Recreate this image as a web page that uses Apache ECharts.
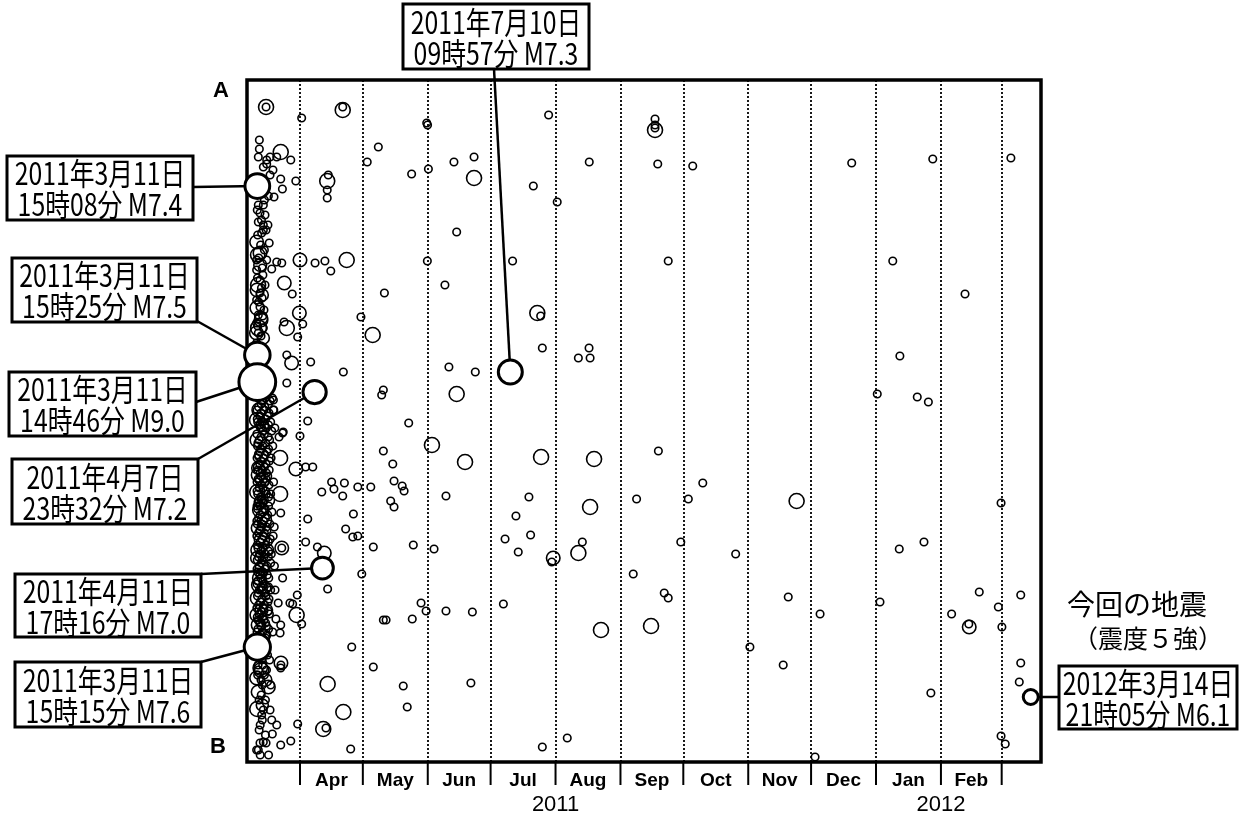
<!DOCTYPE html>
<html><head><meta charset="utf-8">
<script src="https://cdn.jsdelivr.net/npm/echarts@6/dist/echarts.min.js"></script>
<style>html,body{margin:0;padding:0;background:#fff}#c{width:1252px;height:816px}</style>
</head><body><div id="c"></div>
<script>
// x: days after 2011-03-11 00:00 JST, y: distance along profile A→B (km), m: magnitude
const monthStartDays = [21, 51, 82, 112, 143, 174, 204, 235, 265, 296, 327, 356];
const monthNames = ['Apr','May','Jun','Jul','Aug','Sep','Oct','Nov','Dec','Jan','Feb'];
const yearLabelDays = [143, 327];
const yearNames = ['2011', '2012'];
const X_MIN = -4.30, X_MAX = 374.77, Y_MIN = 0, Y_MAX = 682;

const mar11Upper = [[1.6,60,5],[1.6,69,5],[1.1,77,5],[5.1,80,5],[6.7,77,5],[9.9,77,5],[3.5,87,5],[5.1,84,5],[8.1,90,5],[6.7,95,5],[2.9,105,5],[5.9,116,5],[1.1,125,5],[3.5,125,5],[4.3,135,5],[1.9,133,5],[1.1,142,5],[3.5,145,5],[5.7,145,5],[3.5,150,5],[2.7,153,5],[0.3,162,5.8],[6.3,163,5],[1.9,173,5.8],[0.3,180,5],[5.1,180,5],[9.9,182,5],[12.3,183,5],[7.5,189,5],[0.3,190,5],[3.3,195,5],[1.9,200,5],[4.3,205,5],[0.5,210,5.8],[1.9,213,5],[2.9,218,5],[0.3,220,5],[1.9,227,5],[3.8,230,5],[1.1,235,5],[2.4,240,5.8],[0.3,243,5],[3.5,248,5],[1.1,253,5],[0.2,253,5.8],[0.3,263,5],
  [1.0,100,5],[2.3,112,5],[4.0,120,5],[0.6,130,5],[2.6,140,5],[4.8,150,5],[0.8,155,5],[2.2,165,5],[4.0,170,5],[1.3,178,5],[3.0,188,5],[0.7,198,5],[2.6,208,5],[1.3,222,5],[3.2,236,5],[0.8,246,5],[2.4,256,5],[1.4,268,5]];

const mar11Lower = [[1.0,318,5],[4.5,318,5],[7.8,318,5],[2.5,324,5],[6.0,324,5],[0.5,330,5],[3.8,330,5],[8.5,330,5],[1.8,336,5],[5.5,336,5],[0.8,342,5],[3.0,342,5],[7.0,342,5],[2.2,348,5],[5.0,348,5],[9.0,348,5],[0.4,354,5],[4.0,354,5],[1.5,360,5],[6.5,360,5],[3.2,366,5],[0.7,366,5],[8.0,366,5],[2.0,372,5],[5.2,372,5],[0.5,378,5],[3.6,378,5],[7.2,378,5],[1.8,384,5],[4.8,384,5],[0.9,390,5],[3.0,390,5],[6.3,390,5],[2.4,396,5],[5.6,396,5],[0.5,402,5],[4.2,402,5],[8.4,402,5],[1.6,408,5],[3.4,408,5],[0.8,414,5],[5.0,414,5],[7.0,414,5],[2.6,420,5],[4.0,420,5],[0.5,426,5],[1.9,426,5],[6.0,426,5],[3.1,432,5],[7.6,432,5],[1.2,438,5],[4.5,438,5],[0.6,444,5],[2.8,444,5],[6.6,444,5],[1.9,450,5],[5.3,450,5],[0.4,456,5],[3.6,456,5],[8.2,456,5],[2.0,462,5],[5.9,462,5],[0.9,468,5],[3.5,468,5],[1.7,474,5],[4.4,474,5],[7.3,474,5],[0.6,480,5],[2.9,480,5],[1.5,486,5],[5.2,486,5],[8.8,486,5],[0.8,492,5],[3.3,492,5],[2.3,498,5],[6.1,498,5],[0.5,504,5],[4.0,504,5],[1.6,510,5],[3.0,510,5],[7.0,510,5],[0.7,516,5],[4.8,516,5],[2.1,522,5],[5.7,522,5],[0.4,528,5],[3.4,528,5],[1.5,534,5],[6.4,534,5],[0.9,540,5],[3.8,540,5],[2.3,546,5],[5.0,546,5],[0.5,552,5],[3.1,552,5],[8.0,552,5],[1.7,558,5],[4.5,558,5],[0.6,564,5],[2.8,564,5],[2.0,575,5],[5.5,575,5],[3.2,585,5],[1.0,585,5],[4.0,595,5],[0.8,595,5],[2.5,615,5],[3.0,640,5],[7.5,640,5],[1.5,650,5],[0.5,340,6.0],[1.2,395,5.9],[2.0,430,6.0],[0.8,470,5.8],[1.5,505,6.0],[0.4,535,5.8],[2.5,590,6.0]];

const mar11Extra = [[2.8,321,5],[6.8,321,5],[1.2,327,5],[4.2,327,5],[2.4,333,5],[6.2,333,5],[0.6,339,5],[4.6,339,5],[1.8,345,5],[6.0,345,5],[3.2,351,5],[7.5,351,5],[2.4,357,5],[5.8,357,5],[0.9,363,5],[4.6,363,5],[2.2,369,5],[6.0,369,5],[1.2,375,5],[4.3,375,5],[2.5,381,5],[6.4,381,5],[0.6,387,5],[4.0,387,5],[2.0,393,5],[5.0,393,5],[1.0,399,5],[3.6,399,5],[2.7,405,5],[6.2,405,5],[0.5,411,5],[4.6,411,5],[2.2,417,5],[6.0,417,5],[1.2,423,5],[3.2,423,5],[4.4,429,5],[0.8,429,5],[2.0,435,5],[5.6,435,5],[0.4,441,5],[3.6,441,5],[2.4,447,5],[5.0,447,5],[1.2,453,5],[4.0,453,5],[2.8,459,5],[6.8,459,5],[0.6,465,5],[4.6,465,5],[2.4,471,5],[6.0,471,5],[1.2,477,5],[3.8,477,5],[2.6,483,5],[7.0,483,5],[0.5,489,5],[4.2,489,5],[1.8,495,5],[5.4,495,5],[3.2,501,5],[0.8,501,5],[2.4,507,5],[6.0,507,5],[1.0,513,5],[4.2,513,5],[2.8,519,5],[6.2,519,5],[1.2,525,5],[4.0,525,5],[2.6,531,5],[5.8,531,5],[0.6,537,5],[3.2,537,5],[1.8,543,5],[4.6,543,5],[0.9,549,5],[6.0,549,5],[2.4,555,5],[5.2,555,5],[1.2,561,5],[3.8,561,5],[0.6,569,5],[4.0,569,5],[2.6,580,5],[6.5,580,5],[1.2,590,5],[5.0,590,5],[2.4,600,5],[3.0,605,5],[1.5,620,5],[4.5,620,5],[3.5,630,5],[2.0,645,5],[4.5,655,5],[2.0,675,5],[6.0,675,5]];

const mar11Medium = [[0.8,175,5.9],[2.0,185,5.7],[1.0,205,6.0],[3.0,215,5.6],[0.6,228,5.9],[2.5,238,5.7],[1.2,248,6.1],[0.4,268,5.8],[3.5,258,5.6],[1.5,330,5.9],[3.0,345,5.7],[0.8,360,6.0],[2.5,375,5.8],[1.0,388,5.7],[3.2,400,5.9],[0.6,412,6.0],[2.2,422,5.7],[4.0,440,5.9],[1.0,448,5.8],[2.8,460,6.0],[0.5,478,5.7],[3.0,488,5.9],[1.6,498,5.8],[4.2,508,5.6],[0.9,518,6.0],[2.6,530,5.7],[1.2,545,5.9],[3.4,556,5.8],[0.6,574,5.7],[2.0,588,5.9],[4.5,600,5.7],[1.0,612,5.8],[3.0,625,5.6],[5.5,470,5.6],[6.0,420,5.6],[5.0,530,5.6]];

const eventsMarch = [[4.8,27,6.0],[4.8,27,5],[11.8,72,6.0],[16.6,80,5],[19.0,101,5],[11.8,99,5],[12.6,109,5],[8.6,117,5],[13.5,203,5.8],[17.3,214,5],[20.7,233,5.8],[14.7,248,6.0],[13.4,242,5],[19.9,257,5],[17.0,283,5.8],[14.7,275,5],[14.7,303,5],[12.7,353,5],[11.0,357,5],[11.5,378,6.0],[19.0,389,5.8],[11.5,414,6.0],[11.8,433,5],[12.3,468,5.8],[12.3,468,5],[19.7,515,5],[17.5,524,5],[19.4,535,6.0],[9.5,539,5],[11.8,545,5],[11.5,553,5],[10.6,523,5],[11.9,583,5.8],[11.9,585,5],[11.8,588,5],[0.6,629,6.0],[6.7,630,5],[2.7,635,5],[5.9,607,5.8],[7.0,605,5],[0.3,598,5.8],[9.9,645,5],[7.8,654,5],[3.5,662,5],[1.1,670,5],[4.8,663,5],[11.8,665,5],[16.6,661,5],[19.9,644,5],[21.0,180,5.8],[21.0,356,5],[21.8,38,5],[21.8,544,5],[8.3,320,5],[8.3,330,5],[13.0,352,5],[8.7,447,5],[5.9,477,5],[3.5,493,5],[12.7,498,5],[9.1,510,5],[16.2,523,5],[1.9,663,5],[0.3,670,5]];

const eventsApril = [[28.2,183,5],[32.9,181,5],[35.7,191,5],[34.0,101,6.0],[34.5,95,5],[34.0,110,5],[34.0,118,5],[22.3,244,5],[26.1,282,5],[24.7,341,5],[23.7,387,5],[27.1,387,5],[36.1,402,5],[31.4,412,5],[37.2,409,5],[42.2,403,5],[41.4,416,5],[48.6,407,5],[24.7,439,5],[46.5,434,5],[42.8,449,5],[46.2,457,5],[48.6,456,5],[23.7,462,5],[29.3,467,5],[32.6,473,5.8],[50.5,494,5],[34.2,509,5],[45.7,567,5],[34.2,604,6.0],[41.7,632,6.0],[32.1,649,6.0],[33.4,648,5],[45.2,669,5],[41.4,30,6.0],[41.4,27,5],[43.3,180,6.0],[41.7,292,5],[50.1,237,5]];

const eventsMayJun = [[53.1,82,5],[58.4,67,5],[74.3,94,5],[81.5,43,5],[81.9,45,5],[82.3,89,5],[94.5,82,5],[104.1,77,5],[104.1,98,6.0],[95.8,152,5],[90.2,205,5],[61.3,213,5],[81.8,181,5],[55.7,255,6.0],[92.1,287,5],[104.7,292,5],[95.8,314,6.0],[60.8,310,5],[60.0,315,5],[72.9,343,5],[60.8,371,5],[65.3,384,5],[84.0,365,6.0],[99.8,382,6.0],[54.8,407,5],[65.9,401,5],[69.8,406,5],[70.7,411,5],[64.3,421,5],[65.9,427,5],[90.7,416,5],[56.0,467,5],[75.1,465,5],[85.0,469,5],[78.8,523,5],[81.2,531,5],[90.7,531,5],[103.3,532,5],[74.6,539,5],[60.8,540,5],[62.1,540,5],[56.0,587,5],[70.3,606,5],[72.2,627,5],[102.6,603,5]];

const eventsJulAug = [[139.7,35,5],[132.4,106,5],[143.8,122,5],[159.1,82,5],[122.5,181,5],[134.3,233,6.0],[135.9,236,5],[136.7,268,5],[153.9,278,5],[159.0,268,5],[159.5,278,5],[136.1,377,6.0],[161.4,379,6.0],[124.1,436,5],[130.3,417,5],[131.1,455,5],[118.9,459,5],[125.2,472,5],[141.9,478,5.8],[141.2,482,5],[153.9,473,6.0],[155.8,462,5],[159.5,427,6.0],[164.7,550,6.0],[118.1,524,5],[136.7,667,5],[148.6,658,5]];

const eventsSepDec = [[190.5,50,6.0],[190.5,45,5],[190.5,39,5],[190.5,48,5],[191.8,84,5],[208.5,86,5],[196.8,181,5],[192.1,371,5],[181.7,419,5],[206.4,419,5],[213.3,403,5],[202.8,462,5],[229.0,474,5],[180.1,494,5],[194.9,513,5],[196.8,518,5],[188.6,546,6.0],[284.4,83,5],[258.1,421,6.0],[254.1,517,5],[269.3,534,5],[235.8,567,5],[251.7,585,5],[266.9,677,5]];

const eventsJanMar = [[323.1,79,5],[360.4,78,5],[304.0,181,5],[338.5,214,5],[307.4,276,5],[296.6,314,5],[315.7,317,5],[321.0,322,5],[297.9,522,5],[307.1,469,5],[318.9,462,5],[345.3,512,5],[365.1,515,5],[332.1,534,5],[340.5,547,5.8],[340.3,544,5],[354.4,527,5],[356.1,547,5],[355.7,423,5],[365.1,583,5],[364.4,602,5],[322.2,613,5],[355.7,656,5],[357.7,664,5]];

// labeled events
const labeledEvents = [[0.642,275,7.5],[0.62,302,9.0],[0.63,106,7.4],[0.635,567,7.6],[27.98,312,7.2],[31.72,488,7.0],[121.41,292,7.3],[369.88,617,6.1]];
const labeledTexts = [
  '2011年3月11日\n15時25分 M7.5',
  '2011年3月11日\n14時46分 M9.0',
  '2011年3月11日\n15時08分 M7.4',
  '2011年3月11日\n15時15分 M7.6',
  '2011年4月7日\n23時32分 M7.2',
  '2011年4月11日\n17時16分 M7.0',
  '2011年7月10日\n09時57分 M7.3',
  '2012年3月14日\n21時05分 M6.1'
];
const noteLines = ['今回の地震', '（震度５強）'];

// layout of callout boxes (pixels) : box rect and line anchor
const boxLayout = [
  {x:12, y:258, w:185, h:64, ax:197, ay:321},
  {x:9,  y:372, w:187, h:64, ax:196, ay:402},
  {x:7,  y:156, w:186, h:64, ax:193, ay:187},
  {x:15, y:662, w:186, h:65, ax:201, ay:662},
  {x:12, y:459, w:186, h:65, ax:198, ay:459},
  {x:15, y:574, w:186, h:63, ax:201, ay:574},
  {x:403,y:4,   w:186, h:65, ax:494, ay:69},
  {x:1059,y:666,w:178, h:63, ax:1059, ay:697}
];

const allEvents = [].concat(mar11Upper, mar11Lower, mar11Extra, mar11Medium, eventsMarch, eventsApril, eventsMayJun, eventsJulAug, eventsSepDec, eventsJanMar);
const sizeOf = v => 7.5 * (v[2] - 4.0);
const sizeOfBold = v => 7.5 * (v[2] - 4.1);

const monthMid = monthNames.map((n, i) => (monthStartDays[i] + monthStartDays[i + 1]) / 2);
const monthLookup = {}; monthMid.forEach((v, i) => monthLookup[v] = monthNames[i]);
const yearLookup = {}; yearLabelDays.forEach((v, i) => yearLookup[v] = yearNames[i]);

const chart = echarts.init(document.getElementById('c'));
chart.setOption({
  animation: false,
  backgroundColor: '#fff',
  grid: {left: 247, top: 80, width: 794, height: 682, show: true, borderColor: '#000', borderWidth: 3.5, backgroundColor: 'transparent'},
  xAxis: [{
    type: 'value', min: X_MIN, max: X_MAX, position: 'bottom',
    axisLine: {show: false},
    splitLine: {show: false},
    axisTick: {show: false},
    axisLabel: {customValues: monthMid, margin: 9, color: '#000', fontSize: 19, fontWeight: 'bold', fontFamily: 'Liberation Sans',
      formatter: v => monthLookup[v] || ''}
  }, {
    type: 'value', min: X_MIN, max: X_MAX, position: 'bottom',
    axisLine: {show: false}, splitLine: {show: false}, axisTick: {show: false},
    axisLabel: {customValues: yearLabelDays, margin: 32, color: '#000', fontSize: 22, fontFamily: 'Liberation Sans',
      formatter: v => yearLookup[v] || ''}
  }],
  yAxis: {type: 'value', min: Y_MIN, max: Y_MAX, inverse: true, show: false, splitLine: {show: false}},
  series: [{
    type: 'scatter', z: 2, data: allEvents, symbol: 'circle', symbolSize: sizeOf,
    itemStyle: {color: 'rgba(0,0,0,0)', borderColor: '#000', borderWidth: 1.6, opacity: 1},
    emphasis: {disabled: true}, silent: true,
    markLine: {silent: true, symbol: ['none', 'none'], label: {show: false},
      lineStyle: {color: '#000', width: 1.8, type: [2, 2]},
      data: monthStartDays.map(d => ({xAxis: d}))}
  }, {
    type: 'scatter', z: 10, data: labeledEvents, symbol: 'circle', symbolSize: sizeOfBold,
    itemStyle: {color: '#fff', borderColor: '#000', borderWidth: 3, opacity: 1},
    emphasis: {disabled: true}, silent: true
  }]
});

const gfx = [];
// month boundary ticks below the axis
monthStartDays.forEach(d => {
  const px = chart.convertToPixel({xAxisIndex: 0}, d);
  gfx.push({type: 'line', z: 5, silent: true, shape: {x1: px, y1: 762, x2: px, y2: 785}, style: {stroke: '#000', lineWidth: 2}});
});
labeledEvents.forEach((ev, i) => {
  const p = chart.convertToPixel({gridIndex: 0}, [ev[0], ev[1]]);
  const b = boxLayout[i];
  gfx.push({type: 'line', z: 5, silent: true, shape: {x1: b.ax, y1: b.ay, x2: p[0], y2: p[1]}, style: {stroke: '#000', lineWidth: 2.5}});
  gfx.push({type: 'rect', z: 20, silent: true, shape: {x: b.x, y: b.y, width: b.w, height: b.h}, style: {fill: '#fff', stroke: '#000', lineWidth: 3}});
  gfx.push({type: 'text', z: 21, silent: true, x: b.x + b.w / 2, y: b.y + b.h / 2 + 1, scaleX: 0.8,
    style: {text: labeledTexts[i], fontSize: 31, fontFamily: 'Noto Sans CJK JP', fill: '#000', align: 'center', verticalAlign: 'middle', lineHeight: 31}});
});
gfx.push({type: 'text', z: 21, silent: true, x: 1137, y: 604, style: {text: noteLines[0], fontSize: 28, fontFamily: 'Noto Sans CJK JP', fill: '#000', align: 'center', verticalAlign: 'middle'}});
gfx.push({type: 'text', z: 21, silent: true, x: 1148, y: 638, style: {text: noteLines[1], fontSize: 25, fontFamily: 'Noto Sans CJK JP', fill: '#000', align: 'center', verticalAlign: 'middle'}});
gfx.push({type: 'text', z: 21, silent: true, x: 221, y: 91, style: {text: 'A', fontSize: 22, fontWeight: 'bold', fontFamily: 'Liberation Sans', fill: '#000', align: 'center', verticalAlign: 'middle'}});
gfx.push({type: 'text', z: 21, silent: true, x: 218, y: 747, style: {text: 'B', fontSize: 22, fontWeight: 'bold', fontFamily: 'Liberation Sans', fill: '#000', align: 'center', verticalAlign: 'middle'}});
chart.setOption({graphic: {elements: gfx}});
</script></body></html>
